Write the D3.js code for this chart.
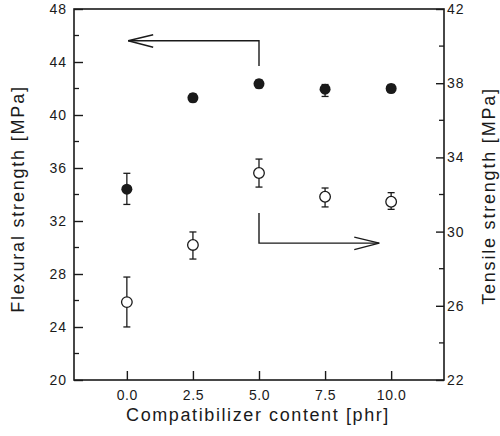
<!DOCTYPE html>
<html>
<head>
<meta charset="utf-8">
<script src="https://cdn.jsdelivr.net/npm/d3@7"></script>
<style>
  html, body { margin: 0; padding: 0; background: #fff; }
  text { font-family: "Liberation Sans", Arial, Helvetica, sans-serif; fill: #1a1a1a; }
</style>
</head>
<body>
<svg id="chart" width="500" height="436"></svg>
<script>
// ---- data ----
const contents = [0.0, 2.5, 5.0, 7.5, 10.0];
const flexural = [34.4, 41.3, 42.35, 41.95, 42.0];
const flexuralLow = [33.25, 41.0, 42.05, 41.4, 41.7];
const flexuralHigh = [35.6, 41.6, 42.65, 42.3, 42.3];
const tensile = [26.2, 29.28, 33.16, 31.88, 31.61];
const tensileLow = [24.86, 28.52, 32.4, 31.33, 31.2];
const tensileHigh = [27.55, 29.98, 33.91, 32.35, 32.1];
const xTicks = [0.0, 2.5, 5.0, 7.5, 10.0];
const leftTicks = [20, 24, 28, 32, 36, 40, 44, 48];
const leftMinor = [22, 26, 30, 34, 38, 42, 46];
const rightTicks = [22, 26, 30, 34, 38, 42];
const rightMinor = [24, 28, 32, 36, 40];
// arrow annotations (data units): [x, yLeft] for flexural arrow, [x, yRight] for tensile arrow
const flexArrow = [[5.0, 43.7], [5.0, 45.6], [0.05, 45.6]];
const tensArrow = [[5.0, 31.0], [5.0, 29.38], [9.55, 29.38]];

// ---- layout ----
const svg = d3.select("#chart");
const L = 74, R = 444, T = 9, B = 380;
const x = d3.scaleLinear().domain([-2, 12]).range([L, R]);
const yL = d3.scaleLinear().domain([20, 48]).range([B, T]);
const yR = d3.scaleLinear().domain([22, 42]).range([B, T]);
const ink = "#1a1a1a";

// frame
svg.append("rect").attr("x", L).attr("y", T).attr("width", R - L).attr("height", B - T)
  .attr("fill", "none").attr("stroke", ink).attr("stroke-width", 1.6);

// bottom axis (ticks inward)
const gx = svg.append("g").attr("transform", `translate(0,${B})`)
  .call(d3.axisBottom(x).tickValues(xTicks).tickSize(-9).tickPadding(10).tickFormat(d3.format(".1f")));
gx.select(".domain").remove();
gx.selectAll("line").attr("stroke", ink).attr("stroke-width", 1.4);
gx.selectAll("text").attr("font-size", 14).attr("letter-spacing", 0.6).attr("fill", ink)
  .attr("font-family", "Liberation Sans, Arial, sans-serif");

// left axis
const gl = svg.append("g").attr("transform", `translate(${L},0)`)
  .call(d3.axisLeft(yL).tickValues(leftTicks).tickSize(-9).tickPadding(7).tickFormat(d3.format("d")));
gl.select(".domain").remove();
gl.selectAll("line").attr("stroke", ink).attr("stroke-width", 1.4);
gl.selectAll("text").attr("font-size", 14).attr("letter-spacing", 1).attr("fill", ink)
  .attr("font-family", "Liberation Sans, Arial, sans-serif");
svg.append("g").selectAll("line").data(leftMinor).join("line")
  .attr("x1", L).attr("x2", L + 5).attr("y1", d => yL(d)).attr("y2", d => yL(d))
  .attr("stroke", ink).attr("stroke-width", 1.3);

// right axis
const gr = svg.append("g").attr("transform", `translate(${R},0)`)
  .call(d3.axisRight(yR).tickValues(rightTicks).tickSize(-8).tickPadding(3).tickFormat(d3.format("d")));
gr.select(".domain").remove();
gr.selectAll("line").attr("stroke", ink).attr("stroke-width", 1.4);
gr.selectAll("text").attr("font-size", 14).attr("letter-spacing", 1).attr("fill", ink)
  .attr("font-family", "Liberation Sans, Arial, sans-serif");
svg.append("g").selectAll("line").data(rightMinor).join("line")
  .attr("x1", R).attr("x2", R - 5).attr("y1", d => yR(d)).attr("y2", d => yR(d))
  .attr("stroke", ink).attr("stroke-width", 1.3);

// axis titles
svg.append("text").attr("x", 258).attr("y", 421).attr("text-anchor", "middle")
  .attr("font-size", 18).attr("letter-spacing", 1.6).text("Compatibilizer content [phr]");
svg.append("text").attr("transform", `translate(24,199) rotate(-90)`)
  .attr("text-anchor", "middle").attr("font-size", 18).attr("letter-spacing", 1.8)
  .text("Flexural strength [MPa]");
svg.append("text").attr("transform", `translate(495,196) rotate(-90)`)
  .attr("text-anchor", "middle").attr("font-size", 18).attr("letter-spacing", 1.8)
  .text("Tensile strength [MPa]");

// error bars helper
function errorBars(vals, lo, hi, y) {
  const g = svg.append("g").attr("stroke", ink).attr("stroke-width", 1.3);
  contents.forEach((c, i) => {
    const cx = x(c);
    g.append("line").attr("x1", cx).attr("x2", cx).attr("y1", y(lo[i])).attr("y2", y(hi[i]));
    g.append("line").attr("x1", cx - 3.5).attr("x2", cx + 3.5).attr("y1", y(lo[i])).attr("y2", y(lo[i]));
    g.append("line").attr("x1", cx - 3.5).attr("x2", cx + 3.5).attr("y1", y(hi[i])).attr("y2", y(hi[i]));
  });
}
errorBars(flexural, flexuralLow, flexuralHigh, yL);
errorBars(tensile, tensileLow, tensileHigh, yR);

// markers
svg.append("g").selectAll("circle").data(contents).join("circle")
  .attr("cx", d => x(d)).attr("cy", (d, i) => yL(flexural[i])).attr("r", 5.5)
  .attr("fill", ink);
svg.append("g").selectAll("circle").data(contents).join("circle")
  .attr("cx", d => x(d)).attr("cy", (d, i) => yR(tensile[i])).attr("r", 5.3)
  .attr("fill", "#fff").attr("stroke", ink).attr("stroke-width", 1.3);

// arrows
function arrow(pts, y, dir) {
  const line = d3.line().x(p => x(p[0])).y(p => y(p[1]));
  svg.append("path").attr("d", line(pts)).attr("fill", "none").attr("stroke", ink).attr("stroke-width", 1.4);
  const tip = pts[pts.length - 1];
  const tx = x(tip[0]), ty = y(tip[1]);
  const head = [[tx - dir * 25, ty - 6], [tx, ty], [tx - dir * 25, ty + 6.5]];
  svg.append("path").attr("d", d3.line()(head)).attr("fill", "none").attr("stroke", ink).attr("stroke-width", 1.4);
}
arrow(flexArrow, yL, -1);
arrow(tensArrow, yR, 1);
</script>
</body>
</html>
